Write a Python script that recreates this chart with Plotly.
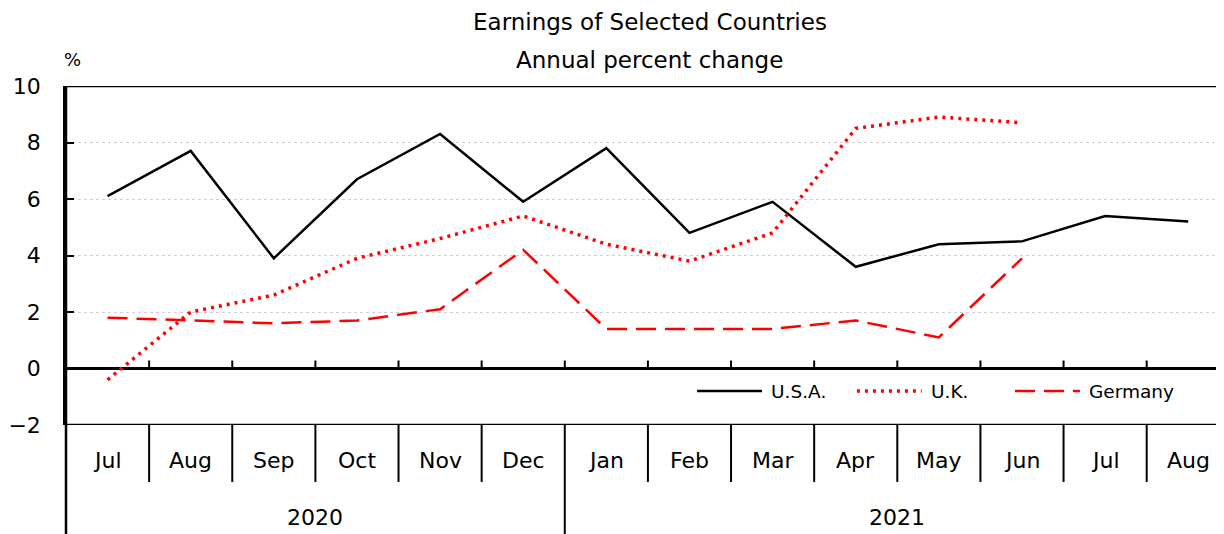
import plotly.graph_objects as go

months = ["Jul", "Aug", "Sep", "Oct", "Nov", "Dec", "Jan", "Feb", "Mar", "Apr", "May", "Jun", "Jul", "Aug"]
years = ["2020", "2021"]
year_of_month = [0, 0, 0, 0, 0, 0, 1, 1, 1, 1, 1, 1, 1, 1]

usa = [6.1, 7.7, 3.9, 6.7, 8.3, 5.9, 7.8, 4.8, 5.9, 3.6, 4.4, 4.5, 5.4, 5.2]
uk = [-0.4, 2.0, 2.6, 3.9, 4.6, 5.4, 4.4, 3.8, 4.8, 8.5, 8.9, 8.7, None, None]
germany = [1.8, 1.7, 1.6, 1.7, 2.1, 4.2, 1.4, 1.4, 1.4, 1.7, 1.1, 3.9, None, None]

y_ticks = [-2, 0, 2, 4, 6, 8, 10]

FONT = "DejaVu Sans"
RED = "#ff0000"
x = list(range(len(months)))

fig = go.Figure()
fig.add_trace(go.Scatter(x=x, y=usa, mode="lines", name="U.S.A.",
                         line=dict(color="black", width=2.5)))
fig.add_trace(go.Scatter(x=x, y=uk, mode="lines", name="U.K.",
                         line=dict(color=RED, width=3.5, dash="3px,5px")))
fig.add_trace(go.Scatter(x=x, y=germany, mode="lines", name="Germany",
                         line=dict(color=RED, width=2.5, dash="20px,9px")))

n = len(months)
shapes = []
annotations = []
# frame lines
shapes.append(dict(type="line", xref="paper", yref="y", x0=0, x1=1, y0=10, y1=10,
                   line=dict(color="black", width=2.5)))
shapes.append(dict(type="line", xref="paper", yref="y", x0=0, x1=1, y0=-2, y1=-2,
                   line=dict(color="black", width=2.5)))
shapes.append(dict(type="line", xref="paper", yref="paper", x0=0, x1=0, y0=1, y1=-0.33,
                   line=dict(color="black", width=2.5)))
year_y = -0.33
month_sep_y = -0.168
for k in range(n - 1):
    b = k + 0.5
    # small ticks on zero line
    shapes.append(dict(type="line", xref="x", yref="y", ysizemode="pixel", yanchor=0,
                       x0=b, x1=b, y0=0, y1=8, line=dict(color="black", width=2)))
    is_year_break = year_of_month[k] != year_of_month[k + 1]
    shapes.append(dict(type="line", xref="x", yref="paper", x0=b, x1=b, y0=0,
                       y1=year_y if is_year_break else month_sep_y,
                       line=dict(color="black", width=2)))

for i, m in enumerate(months):
    annotations.append(dict(x=i, y=-0.106, xref="x", yref="paper", text=m, showarrow=False,
                            font=dict(family=FONT, size=22, color="black"),
                            xanchor="center", yanchor="middle"))
for yi, yr in enumerate(years):
    idx = [i for i, v in enumerate(year_of_month) if v == yi]
    annotations.append(dict(x=sum(idx) / len(idx), y=-0.274, xref="x", yref="paper", text=yr,
                            showarrow=False, font=dict(family=FONT, size=22, color="black"),
                            xanchor="center", yanchor="middle"))

# titles
annotations.append(dict(x=0.504, y=1.189, xref="paper", yref="paper",
                        text="Earnings of Selected Countries", showarrow=False,
                        font=dict(family=FONT, size=23, color="black"),
                        xanchor="center", yanchor="middle"))
annotations.append(dict(x=0.504, y=1.077, xref="paper", yref="paper",
                        text="Annual percent change", showarrow=False,
                        font=dict(family=FONT, size=23, color="black"),
                        xanchor="center", yanchor="middle"))
annotations.append(dict(x=0.006, y=1.077, xref="paper", yref="paper", text="%",
                        showarrow=False, font=dict(family=FONT, size=18, color="black"),
                        xanchor="center", yanchor="middle"))

# manual legend
legend_items = [
    ("U.S.A.", dict(color="black", width=2.5), 0.545, 0.601),
    ("U.K.", dict(color=RED, width=3.5, dash="3px,5px"), 0.683, 0.739),
    ("Germany", dict(color=RED, width=2.5, dash="20px,9px"), 0.8195, 0.8756),
]
leg_y = -0.8
for name, ln, x0, x1 in legend_items:
    shapes.append(dict(type="line", xref="paper", yref="y", x0=x0, x1=x1, y0=leg_y, y1=leg_y,
                       line=ln))
    annotations.append(dict(x=x1 + 0.006, y=leg_y, xref="paper", yref="y", text=name,
                            showarrow=False, font=dict(family=FONT, size=18.5, color="black"),
                            xanchor="left", yanchor="middle"))

# page body adds an 8px margin, so the figure is 8px smaller and margins shifted
fig.update_layout(
    width=1216, height=526,
    margin=dict(l=58, r=0, t=78, b=109),
    paper_bgcolor="white", plot_bgcolor="white",
    showlegend=False,
    shapes=shapes, annotations=annotations,
    xaxis=dict(range=[-0.5, 13.43], showticklabels=False, showgrid=False, zeroline=False,
               showline=False, ticks="", fixedrange=True, automargin=False),
    yaxis=dict(range=[-2, 10], tickvals=y_ticks, ticktext=[("\u2212" + str(-v)) if v < 0 else str(v) for v in y_ticks],
               showgrid=True, gridcolor="#d0d0d0", griddash="dot", gridwidth=1,
               zeroline=True, zerolinecolor="black", zerolinewidth=2.5,
               showline=True, linecolor="black", linewidth=2.5,
               ticks="inside", ticklen=8, tickwidth=2, tickcolor="black",
               ticklabelstandoff=18, automargin=False,
               tickfont=dict(family=FONT, size=22, color="black")),
)

fig.write_html("out.html")
